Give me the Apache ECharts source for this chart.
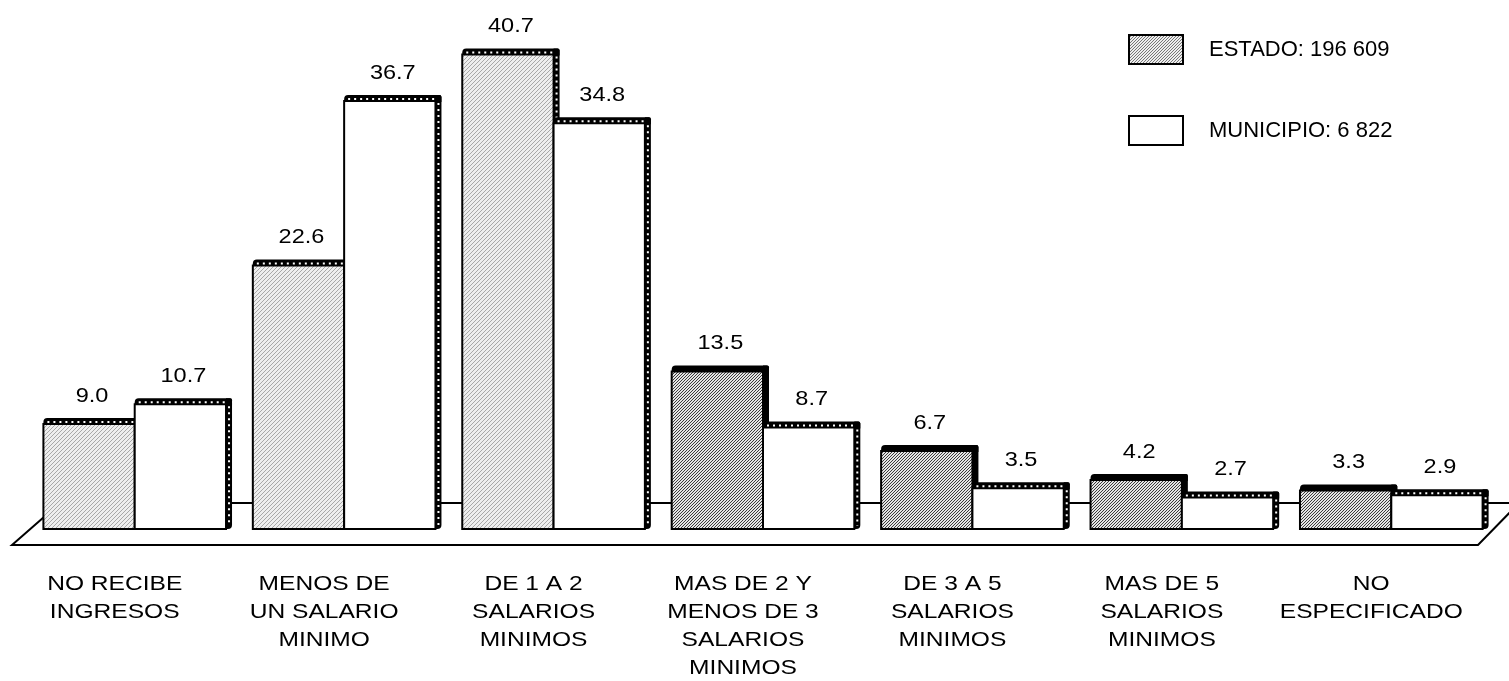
<!DOCTYPE html>
<html>
<head>
<meta charset="utf-8">
<script src="https://cdn.jsdelivr.net/npm/echarts@6/dist/echarts.min.js"></script>
<style>
  html, body { margin: 0; padding: 0; background: #fff; }
  #chart { width: 1509px; height: 681px; }
</style>
</head>
<body>
<div id="chart"></div>
<script>
// Ingreso por trabajo de la población ocupada (%)
const categories = [
  'NO RECIBE\nINGRESOS',
  'MENOS DE\nUN SALARIO\nMINIMO',
  'DE 1 A 2\nSALARIOS\nMINIMOS',
  'MAS DE 2 Y\nMENOS DE 3\nSALARIOS\nMINIMOS',
  'DE 3 A 5\nSALARIOS\nMINIMOS',
  'MAS DE 5\nSALARIOS\nMINIMOS',
  'NO\nESPECIFICADO'
];
const estado = [9.0, 22.6, 40.7, 13.5, 6.7, 4.2, 3.3];
const municipio = [10.7, 36.7, 34.8, 8.7, 3.5, 2.7, 2.9];
const seriesNames = ['ESTADO', 'MUNICIPIO'];
const totals = ['196 609', '6 822'];

const FONT = 'Liberation Sans, Arial, sans-serif';
const DEPTH = 6;          // thickness of the raised top/right edge
const BAR_RATIO = 0.436;  // bar width as a share of the category band
const WIDE = 1.17;        // horizontal stretch of the lettering

// diagonal hatch tile
function makeHatch(size, step, bg, ink, width) {
  const c = document.createElement('canvas');
  c.width = c.height = size;
  const g = c.getContext('2d');
  g.fillStyle = bg;
  g.fillRect(0, 0, size, size);
  g.strokeStyle = ink;
  g.lineWidth = width;
  g.beginPath();
  for (let k = -size; k <= size; k += step) {
    g.moveTo(k, size);
    g.lineTo(k + size, 0);
  }
  g.stroke();
  return c;
}
const lightHatch = { image: makeHatch(8, 4, '#eeeeee', '#a8a8a8', 1), repeat: 'repeat' };
const darkHatch = { image: makeHatch(6, 3, '#e4e4e4', '#3a3a3a', 1), repeat: 'repeat' };
const legendHatch = { image: makeHatch(6, 3, '#eeeeee', '#777777', 1), repeat: 'repeat' };

function renderBar(side) {
  return function (params, api) {
    const i = api.value(0);
    const v = api.value(1);
    const base = api.coord([i, 0]);
    const topPt = api.coord([i, v]);
    const w = api.size([1, 0])[0] * BAR_RATIO;
    const cx = base[0];
    const x0 = side === 0 ? cx - w : cx;
    const x1 = side === 0 ? cx + DEPTH : cx + w + DEPTH;
    const yTop = topPt[1];
    const bottom = base[1] + DEPTH;
    const solidEdge = side === 0 && i >= 3;
    const face = side === 0 ? (i >= 3 ? darkHatch : lightHatch) : '#ffffff';

    const children = [
      { type: 'rect', shape: { x: x1 - DEPTH, y: yTop, width: DEPTH, height: bottom - yTop, r: [0, 2, 4, 0] },
        style: { fill: '#000' } },
      { type: 'rect', shape: { x: x0, y: yTop, width: x1 - x0, height: DEPTH + 1, r: [4, 2, 0, 0] },
        style: { fill: '#000' } },
      { type: 'rect', shape: { x: x0, y: yTop + DEPTH, width: x1 - DEPTH - x0, height: bottom - yTop - DEPTH },
        style: { fill: face, stroke: '#000', lineWidth: 2 } }
    ];
    if (!solidEdge) {
      children.push(
        { type: 'line', shape: { x1: x0 + 4, y1: yTop + DEPTH / 2 + 1, x2: x1 - DEPTH, y2: yTop + DEPTH / 2 + 1 },
          style: { stroke: '#fff', lineWidth: 2, lineDash: [2, 4] } },
        { type: 'line', shape: { x1: x1 - DEPTH / 2, y1: yTop + DEPTH + 2, x2: x1 - DEPTH / 2, y2: bottom - 3 },
          style: { stroke: '#fff', lineWidth: 2, lineDash: [2, 4] } }
      );
    }
    children.push({
      type: 'text',
      x: (x0 + x1 - DEPTH) / 2 + 3,
      y: yTop - 22,
      scaleX: 1.12,
      style: {
        text: v.toFixed(1),
        fill: '#000',
        font: '21px ' + FONT,
        textAlign: 'center',
        textVerticalAlign: 'middle'
      }
    });
    return { type: 'group', children: children };
  };
}

// category names under the floor, placed on the category axis
function renderCategory(params, api) {
  const i = api.value(0);
  const base = api.coord([i, 0]);
  return {
    type: 'text',
    x: base[0] - 20,
    y: base[1] + 47,
    scaleX: WIDE,
    style: {
      text: categories[i],
      fill: '#000',
      font: '21px ' + FONT,
      lineHeight: 28,
      textAlign: 'center',
      textVerticalAlign: 'top'
    }
  };
}

const chart = echarts.init(document.getElementById('chart'), null, { renderer: 'canvas' });

chart.setOption({
  animation: false,
  backgroundColor: '#ffffff',
  grid: { left: 30, right: 13, top: 10, bottom: 158 },
  legend: {
    orient: 'vertical',
    left: 1128,
    top: 34,
    padding: 0,
    itemWidth: 54,
    itemHeight: 29,
    itemGap: 50,
    selectedMode: false,
    formatter: function (name) {
      return name + ': ' + totals[seriesNames.indexOf(name)];
    },
    textStyle: { fontSize: 22, fontFamily: FONT, color: '#000', padding: [0, 0, 0, 21] },
    data: [
      { name: seriesNames[0], icon: 'rect', itemStyle: { color: legendHatch, borderColor: '#000', borderWidth: 2 } },
      { name: seriesNames[1], icon: 'rect', itemStyle: { color: '#fff', borderColor: '#000', borderWidth: 2 } }
    ]
  },
  graphic: [{
    // floor plane under the bars
    type: 'polygon',
    z: 0,
    shape: { points: [[12, 545], [60, 503], [1519, 503], [1478, 545]] },
    style: { fill: 'none', stroke: '#000', lineWidth: 2 }
  }],
  xAxis: {
    type: 'category',
    data: categories,
    axisLine: { show: false },
    axisTick: { show: false },
    axisLabel: { show: false }
  },
  yAxis: { type: 'value', min: 0, max: 44, show: false, splitLine: { show: false } },
  series: [
    {
      name: seriesNames[0],
      type: 'custom',
      z: 5,
      itemStyle: { color: legendHatch, borderColor: '#000', borderWidth: 2 },
      renderItem: renderBar(0),
      encode: { x: 0, y: 1 },
      data: estado.map((v, i) => [i, v])
    },
    {
      name: seriesNames[1],
      type: 'custom',
      z: 5,
      itemStyle: { color: '#fff', borderColor: '#000', borderWidth: 2 },
      renderItem: renderBar(1),
      encode: { x: 0, y: 1 },
      data: municipio.map((v, i) => [i, v])
    },
    {
      name: 'categorias',
      type: 'custom',
      z: 5,
      silent: true,
      renderItem: renderCategory,
      encode: { x: 0, y: 1 },
      data: categories.map((c, i) => [i, 0])
    }
  ]
});
</script>
</body>
</html>
